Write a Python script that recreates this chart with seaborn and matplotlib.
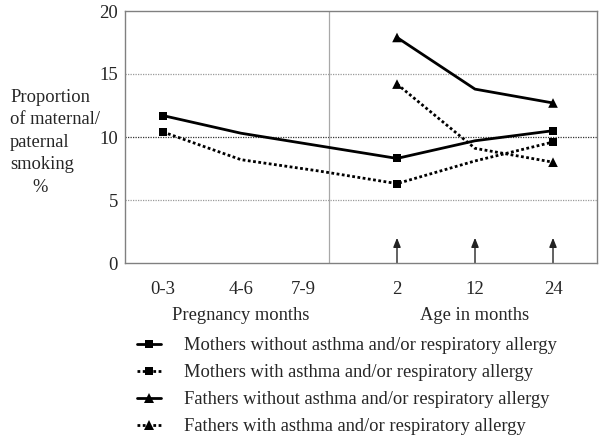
import numpy as np
import pandas as pd
import matplotlib
matplotlib.use("Agg")
import matplotlib.pyplot as plt
import matplotlib.transforms as mtransforms
from matplotlib.lines import Line2D
import seaborn as sns

# ---------------- data ----------------
categories = ["0-3", "4-6", "7-9", "2", "12", "24"]
marker_categories = ["0-3", "2", "24"]
mothers_without = [11.7, 10.3, 9.3, 8.3, 9.7, 10.5]
mothers_with = [10.4, 8.2, 7.3, 6.3, 8.1, 9.6]
fathers_without = [np.nan, np.nan, np.nan, 17.9, 13.8, 12.7]
fathers_with = [np.nan, np.nan, np.nan, 14.2, 9.1, 8.0]
arrow_categories = ["2", "12", "24"]
arrow_height = 2.0
group_labels = ["Pregnancy months", "Age in months"]
group_centers = ["4-6", "12"]
series_names = [
    "Mothers without asthma and/or respiratory allergy",
    "Mothers with asthma and/or respiratory allergy",
    "Fathers without asthma and/or respiratory allergy",
    "Fathers with asthma and/or respiratory allergy",
]
y_label_lines = ["Proportion", "of maternal/", "paternal", "smoking"]
y_ticks = [0, 5, 10, 15, 20]

sns.set_style("white")
plt.rcParams["font.family"] = ["Liberation Serif", "DejaVu Serif"]

FS = 13.3

pos = {c: i for i, c in enumerate(categories)}
series_values = [mothers_without, mothers_with, fathers_without, fathers_with]
styles = [
    dict(ls="-", marker="s"),
    dict(ls=(0, (1.0, 0.9)), marker="s"),
    dict(ls="-", marker="^"),
    dict(ls=(0, (1.0, 0.9)), marker="^"),
]

rows = []
for name, vals in zip(series_names, series_values):
    for c, v in zip(categories, vals):
        rows.append(dict(series=name, cat=c, x=pos[c], y=v,
                         marked=c in marker_categories))
df = pd.DataFrame(rows)

fig = plt.figure(figsize=(6.0, 4.45), dpi=100)
ax = fig.add_axes([125 / 600, 1 - 263 / 445, (597 - 125) / 600, (263 - 11) / 445])

# grid lines
ax.axhline(5, color="#9a9a9a", lw=0.9, ls=(0, (1, 1)), zorder=0)
ax.axhline(15, color="#9a9a9a", lw=0.9, ls=(0, (1, 1)), zorder=0)
ax.axhline(10, color="#333333", lw=0.9, ls=(0, (1, 1)), zorder=0)
ax.axvline(2.13, color="#a8a8a8", lw=0.9, zorder=0)

handles = []
for name, st in zip(series_names, styles):
    sub = df[df.series == name].dropna(subset=["y"])
    sns.lineplot(data=sub, x="x", y="y", ax=ax, color="black", lw=2.0,
                 linestyle=st["ls"], sort=False, legend=False, zorder=3)
    mk = sub[sub.marked]
    sns.scatterplot(data=mk, x="x", y="y", ax=ax, color="black",
                    marker=st["marker"], s=32 if st["marker"] == "s" else 48,
                    edgecolor="none", legend=False, zorder=4)
    handles.append(Line2D([], [], color="black", lw=2.0, linestyle=st["ls"],
                          marker=st["marker"], markersize=5.6 if st["marker"] == "s" else 6.8,
                          markeredgewidth=0))

# arrows
for c in arrow_categories:
    ax.annotate("", xy=(pos[c], arrow_height), xytext=(pos[c], 0),
                arrowprops=dict(arrowstyle="-|>,head_length=0.55,head_width=0.22",
                                color="#222222", lw=1.0, shrinkA=0, shrinkB=0),
                zorder=2)

ax.set_xlim(-0.487, 5.564)
ax.set_ylim(0, 20)
ax.set_xticks(range(len(categories)))
ax.set_xticklabels(categories, fontsize=13.5)
ax.set_yticks(y_ticks)
ax.set_yticklabels([str(t) for t in y_ticks], fontsize=13.5)
ax.tick_params(axis="x", length=0, pad=13)
ax.tick_params(axis="y", length=0, pad=5)
# shift the "7-9" label slightly left as in the reference
lab = ax.get_xticklabels()[2]
lab.set_transform(lab.get_transform() + mtransforms.ScaledTranslation(-16 / 100, 0, fig.dpi_scale_trans))
ax.set_xlabel("")
ax.set_ylabel("")
for sp in ax.spines.values():
    sp.set_color("#808080")
    sp.set_linewidth(1.0)

# group labels
trans = mtransforms.blended_transform_factory(ax.transData, fig.transFigure)
for lbl, c in zip(group_labels, group_centers):
    ax.text(pos[c], 1 - 316 / 445, lbl, transform=trans, ha="center", va="center",
            fontsize=FS)

# y label
for i, line in enumerate(y_label_lines):
    fig.text(10 / 600, 1 - (97 + 22.5 * i) / 445, line, ha="left", va="center", fontsize=FS)
fig.text(40 / 600, 1 - 187 / 445, "%", ha="center", va="center", fontsize=FS)

fig.legend(handles, series_names, loc="upper left",
           bbox_to_anchor=(137 / 600, 1 - 337 / 445), frameon=False,
           fontsize=FS, handlelength=1.3, handletextpad=1.25,
           labelspacing=0.55, borderpad=0, borderaxespad=0)

fig.savefig("out.png", dpi=100)
